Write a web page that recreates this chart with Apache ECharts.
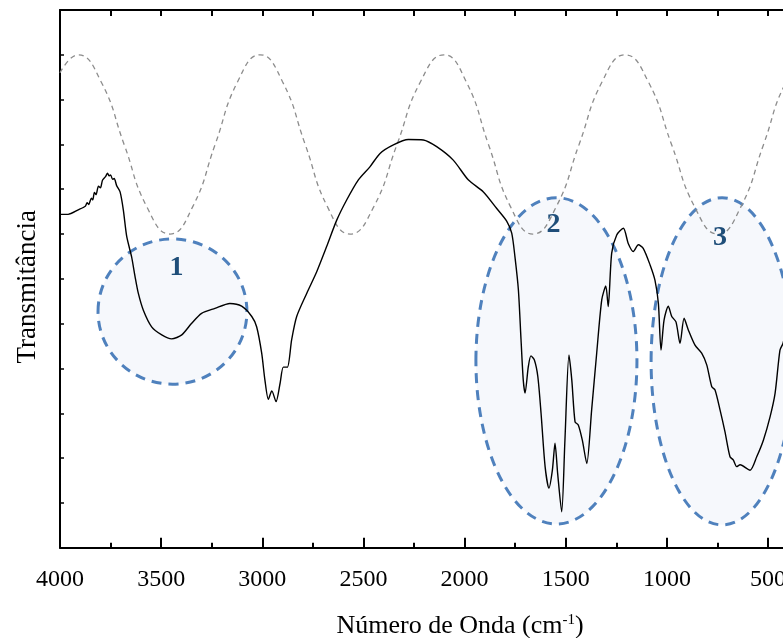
<!DOCTYPE html>
<html>
<head>
<meta charset="utf-8">
<script src="https://cdn.jsdelivr.net/npm/echarts@6/dist/echarts.min.js"></script>
<style>
  html, body { margin: 0; padding: 0; background: #ffffff; }
  #chart { width: 783px; height: 638px; }
</style>
</head>
<body>
<div id="chart"></div>
<script>
// FTIR spectrum: wavenumber (cm-1) and transmittance (arbitrary units)
const wavenumber = [
  4000, 3960, 3910, 3875, 3866, 3858, 3845, 3838, 3830, 3822, 3810, 3800, 3790,
  3775, 3765, 3758, 3750, 3740, 3732, 3720, 3703, 3687, 3670, 3646, 3629, 3613,
  3588, 3547, 3497, 3448, 3398, 3349, 3300, 3234, 3160, 3102, 3052, 3028, 3003,
  2987, 2970, 2953, 2932, 2912, 2896, 2876, 2855, 2830, 2780, 2731, 2682, 2632,
  2583, 2525, 2468, 2418, 2352, 2278, 2204, 2138, 2056, 1982, 1907, 1841, 1792,
  1767, 1751, 1734, 1721, 1710, 1701, 1685, 1672, 1655, 1638, 1622, 1602, 1583,
  1566, 1553, 1540, 1520, 1504, 1484, 1470, 1454, 1438, 1418, 1396, 1372, 1347,
  1322, 1302, 1290, 1273, 1248, 1215, 1191, 1166, 1141, 1117, 1083, 1059, 1042,
  1029, 1014, 993, 976, 955, 935, 915, 894, 861, 828, 803, 778, 762, 737, 713,
  688, 672, 655, 638, 589, 556, 523, 490, 465, 441, 426, 400
];
const transmittance = [
  7.44, 7.44, 7.54, 7.62, 7.70, 7.66, 7.80, 7.76, 7.93, 7.88, 8.07, 8.03, 8.20,
  8.28, 8.36, 8.30, 8.32, 8.22, 8.24, 8.08, 7.94, 7.54, 6.94, 6.49, 6.05, 5.68,
  5.30, 4.93, 4.75, 4.66, 4.75, 5.01, 5.23, 5.34, 5.45, 5.39, 5.16, 4.93, 4.34,
  3.74, 3.31, 3.50, 3.26, 3.67, 4.03, 4.03, 4.64, 5.16, 5.68, 6.16, 6.72, 7.31,
  7.76, 8.21, 8.50, 8.80, 8.99, 9.11, 9.10, 8.95, 8.65, 8.21, 7.94, 7.57, 7.29,
  7.02, 6.49, 5.75, 4.64, 3.74, 3.45, 4.04, 4.28, 4.19, 3.82, 3.00, 1.81, 1.33,
  1.73, 2.33, 1.66, 0.80, 2.40, 4.30, 3.74, 2.81, 2.74, 2.40, 1.88, 3.07, 4.34,
  5.53, 5.84, 5.38, 6.57, 6.98, 7.13, 6.79, 6.61, 6.76, 6.68, 6.31, 5.97, 5.45,
  4.41, 5.08, 5.39, 5.16, 5.04, 4.56, 5.12, 4.86, 4.52, 4.34, 4.08, 3.59, 3.52,
  3.07, 2.59, 2.03, 1.96, 1.81, 1.85, 1.73, 2.03, 2.40, 2.92, 3.45, 4.41, 4.56, 5.08
];

// Dashed reference wave
const waveX = [
  4000, 3911, 3797, 3683, 3570, 3456, 3345, 3233, 3122, 3011, 2900, 2788, 2677,
  2566, 2450, 2334, 2218, 2102, 1992, 1882, 1772, 1662, 1548, 1434, 1320, 1207,
  1092, 977, 862, 747, 635, 522, 410, 297
];
const waveY = [
  10.6, 11.0, 10.4, 9.0, 7.6, 7.0, 7.6, 9.0, 10.4, 11.0, 10.4, 9.0, 7.6,
  7.0, 7.6, 9.0, 10.4, 11.0, 10.4, 9.0, 7.6, 7.0, 7.6, 9.0, 10.4, 11.0,
  10.4, 9.0, 7.6, 7.0, 7.6, 9.0, 10.4, 11.0
];

// Highlighted regions: centre (wavenumber, transmittance) and half-widths
const regionLabels = ['1', '2', '3'];
const regionCenterX = [3444, 1546, 727];
const regionCenterY = [5.27, 4.17, 4.16];
const regionHalfX = [368, 398, 351];
const regionHalfY = [1.62, 3.64, 3.65];
const labelX = [3424, 1560, 737];
const labelY = [6.25, 7.20, 6.91];

// Axis ticks
const xMajorTicks = [4000, 3500, 3000, 2500, 2000, 1500, 1000, 500];
const xMinorTicks = [3750, 3250, 2750, 2250, 1750, 1250, 750];
const xTopTicks = [4000, 3750, 3500, 3250, 3000, 2750, 2500, 2250, 2000, 1750, 1500, 1250, 1000, 750, 500];
const xMin = 426, xMax = 4000;

const spectrum = wavenumber.map((w, i) => [w, transmittance[i]]);
const wave = waveX.map((w, i) => [w, waveY[i]]);

const serif = '"Liberation Serif", "Times New Roman", serif';
const chart = echarts.init(document.getElementById('chart'), null, { renderer: 'canvas' });

const black = { color: '#000', width: 2 };
chart.setOption({
  animation: false,
  backgroundColor: '#ffffff',
  grid: { left: 60, top: 10, right: 0, bottom: 90.3, containLabel: false, outerBoundsMode: 'none' },
  xAxis: [
    {
      type: 'value', inverse: true, min: xMin, max: xMax,
      position: 'bottom',
      axisLine: { show: true, lineStyle: black },
      axisTick: { show: true, inside: true, length: 10, customValues: xMajorTicks, lineStyle: black },
      splitLine: { show: false },
      axisLabel: {
        margin: 20, color: '#000', fontFamily: serif, fontSize: 24,
        customValues: xMajorTicks, formatter: v => String(v)
      },
      name: '{a|Número de Onda (cm}{s|-1}{a|)}',
      nameLocation: 'middle',
      nameGap: 65,
      nameTextStyle: {
        padding: [0, 0, 0, 77],
        rich: {
          a: { fontFamily: serif, fontSize: 26, color: '#000' },
          s: { fontFamily: serif, fontSize: 15, color: '#000', padding: [0, 0, 12, 0] }
        }
      }
    },
    {
      // short minor ticks along the bottom edge
      type: 'value', inverse: true, min: xMin, max: xMax,
      position: 'bottom',
      axisLine: { show: false },
      axisTick: { show: true, inside: true, length: 5, customValues: xMinorTicks, lineStyle: black },
      splitLine: { show: false },
      axisLabel: { show: false }
    },
    {
      type: 'value', inverse: true, min: xMin, max: xMax,
      position: 'top',
      axisLine: { show: true, lineStyle: black },
      axisTick: { show: true, inside: true, length: 6, customValues: xTopTicks, lineStyle: black },
      splitLine: { show: false },
      axisLabel: { show: false }
    }
  ],
  yAxis: {
    type: 'value', min: 0, max: 12, interval: 1,
    axisLine: { show: true, lineStyle: black },
    axisTick: { show: true, inside: true, length: 4, lineStyle: { color: '#000', width: 1.5 } },
    splitLine: { show: false },
    axisLabel: { show: false },
    name: 'Transmitância',
    nameLocation: 'middle',
    nameRotate: 90,
    nameGap: 19,
    nameTextStyle: { fontFamily: serif, fontSize: 27, color: '#000', padding: [0, 16, 0, 0] }
  },
  series: [
    {
      type: 'line', data: wave, xAxisIndex: 0, smooth: 0.5, showSymbol: false,
      lineStyle: { color: '#8c8c8c', width: 1.3, type: [5, 4] }, z: 3, silent: true
    },
    {
      type: 'line', data: spectrum, xAxisIndex: 0, smooth: 0.25, showSymbol: false,
      lineStyle: { color: '#000', width: 1.4 }, z: 4, silent: true
    }
  ]
});

// Region ellipses and their numbers, placed through the axis scales
function px(w, t) { return chart.convertToPixel({ gridIndex: 0 }, [w, t]); }
const graphics = [];
regionLabels.forEach((lab, i) => {
  const c = px(regionCenterX[i], regionCenterY[i]);
  const ex = px(regionCenterX[i] - regionHalfX[i], regionCenterY[i]);
  const ey = px(regionCenterX[i], regionCenterY[i] + regionHalfY[i]);
  graphics.push({
    type: 'ellipse', z: 1, silent: true,
    shape: { cx: c[0], cy: c[1], rx: Math.abs(ex[0] - c[0]), ry: Math.abs(c[1] - ey[1]) },
    style: { fill: 'rgba(225,233,245,0.3)', stroke: '#4f81bd', lineWidth: 3, lineDash: [10, 7] }
  });
  const lp = px(labelX[i], labelY[i]);
  graphics.push({
    type: 'text', z: 100, silent: true, x: lp[0], y: lp[1],
    style: {
      text: lab, fontFamily: serif, fontWeight: 'bold', fontSize: 28, fill: '#1f4e79',
      align: 'center', verticalAlign: 'middle'
    }
  });
});
chart.setOption({ graphic: graphics });
</script>
</body>
</html>
